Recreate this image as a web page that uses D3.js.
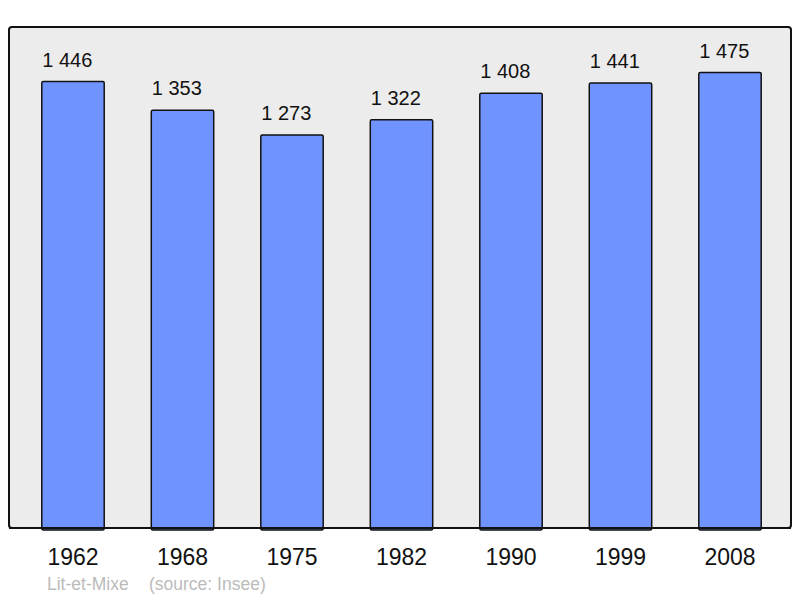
<!DOCTYPE html>
<html>
<head>
<meta charset="utf-8">
<script src="https://cdn.jsdelivr.net/npm/d3@7"></script>
<style>
  body { margin: 0; background: #fff; }
  text { font-family: "Liberation Sans", Arial, sans-serif; }
</style>
</head>
<body>
<svg></svg>
<script>
var width = 800;
var height = 598;

var years = ["1962", "1968", "1975", "1982", "1990", "1999", "2008"];
var population = [1446, 1353, 1273, 1322, 1408, 1441, 1475];
var valueLabels = ["1 446", "1 353", "1 273", "1 322", "1 408", "1 441", "1 475"];

var data = years.map((y, i) => ({ year: y, pop: population[i], label: valueLabels[i] }));

var svg = d3.select("svg")
    .attr("width", width)
    .attr("height", height);

var frame = { left: 9, top: 27, right: 791, bottom: 528 };

svg.append("rect")
    .attr("x", frame.left)
    .attr("y", frame.top)
    .attr("width", frame.right - frame.left)
    .attr("height", frame.bottom - frame.top)
    .attr("rx", 3)
    .attr("fill", "#ececec")
    .attr("stroke", "#111")
    .attr("stroke-width", 2);

var x = d3.scaleBand()
    .domain(years)
    .range([18.25, 784.75])
    .paddingInner(0.43)
    .paddingOuter(0.215);

var y = d3.scaleLinear()
    .domain([0, d3.max(population) * 1.1])
    .range([frame.bottom, frame.top]);

svg.selectAll(".bar")
  .data(data)
  .enter()
  .append("rect")
    .classed("bar", true)
    .attr("x", d => x(d.year))
    .attr("y", d => y(d.pop))
    .attr("width", x.bandwidth())
    .attr("height", d => y(0) - y(d.pop) + 2)
    .attr("rx", 1.5)
    .attr("fill", "#7094ff")
    .attr("stroke", "#111")
    .attr("stroke-width", 1.5);

// redraw bottom edge of frame over bars
svg.append("line")
    .attr("x1", frame.left)
    .attr("x2", frame.right)
    .attr("y1", frame.bottom)
    .attr("y2", frame.bottom)
    .attr("stroke", "#111")
    .attr("stroke-width", 2);

// value labels sit near the left edge of each bar
svg.selectAll(".value")
  .data(data)
  .enter()
  .append("text")
    .classed("value", true)
    .attr("x", d => x(d.year) + 0.5)
    .attr("y", d => y(d.pop) - 15)
    .style("font-size", "20px")
    .attr("fill", "#111")
    .text(d => d.label);

svg.selectAll(".year")
  .data(data)
  .enter()
  .append("text")
    .classed("year", true)
    .attr("x", d => x(d.year) + x.bandwidth() / 2)
    .attr("y", 565)
    .style("text-anchor", "middle")
    .style("font-size", "23px")
    .attr("fill", "#111")
    .text(d => d.year);

svg.append("text")
    .attr("x", 47)
    .attr("y", 590)
    .style("font-size", "17.5px")
    .attr("fill", "#bbb")
    .text("Lit-et-Mixe");

svg.append("text")
    .attr("x", 149)
    .attr("y", 590)
    .style("font-size", "17.5px")
    .attr("fill", "#bbb")
    .text("(source: Insee)");
</script>
</body>
</html>
